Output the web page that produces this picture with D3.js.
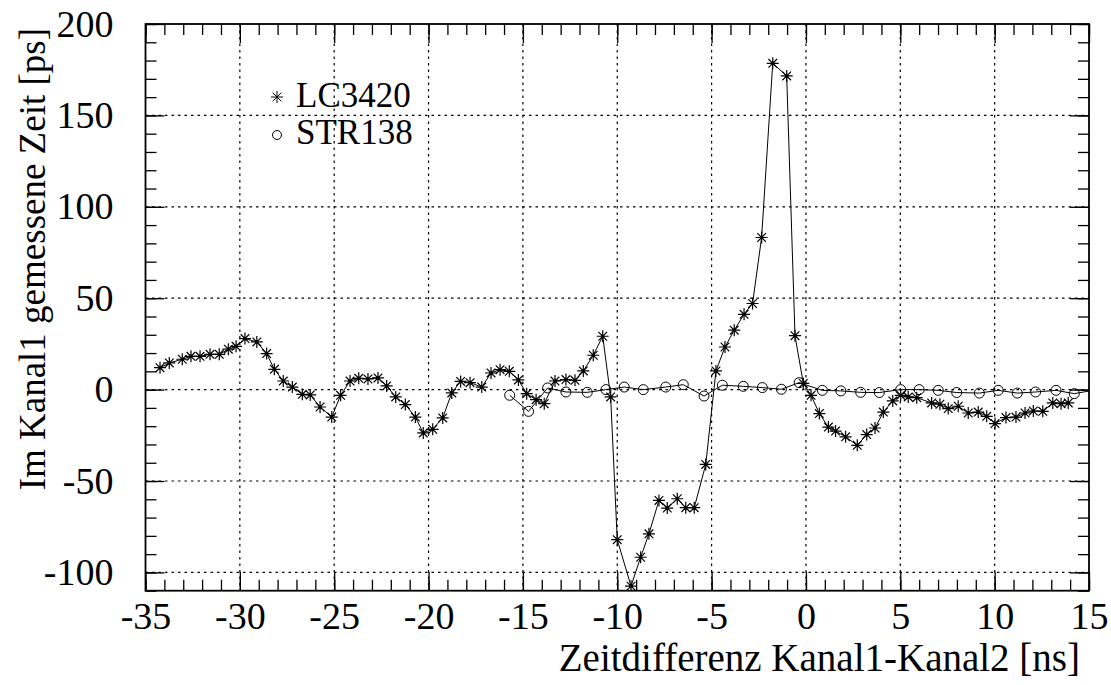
<!DOCTYPE html>
<html>
<head>
<meta charset='utf-8' />
<title>Zeitdifferenz</title>
<style>
  body { margin: 0; background: #fff; }
  svg text { font-family: 'Liberation Serif', 'DejaVu Serif', serif; fill: #000; }
  .domain { display: none; }
</style>
</head>
<body>
<div id="wrapper"></div>
<script src='https://d3js.org/d3.v7.min.js' charset='utf-8'></script>
<script>
  // LC3420 (stars)
  const lcX = [-34.23, -33.74, -33.05, -32.59, -32.11, -31.58, -31.09, -30.61, -30.2, -29.73,
    -29.1, -28.58, -28.17, -27.7, -27.22, -26.69, -26.27, -25.75, -25.13, -24.66,
    -24.16, -23.7, -23.21, -22.68, -22.22, -21.74, -21.23, -20.7, -20.28, -19.78,
    -19.25, -18.77, -18.3, -17.8, -17.18, -16.69, -16.21, -15.72, -15.24, -14.8,
    -14.3, -13.87, -13.3, -12.72, -12.24, -11.8, -11.27, -10.77, -10.35, -10.0,
    -9.27, -8.76, -8.32, -7.79, -7.35, -6.82, -6.37, -5.92, -5.31, -4.77,
    -4.29, -3.8, -3.28, -2.83, -2.35, -1.76, -1.02, -0.58, -0.14, 0.27,
    0.71, 1.19, 1.57, 2.1, 2.72, 3.22, 3.66, 4.1, 4.6, 5.02,
    5.42, 5.87, 6.66, 7.1, 7.54, 8.07, 8.6, 9.13, 9.58, 10.02,
    10.6, 11.13, 11.61, 12.05, 12.55, 13.08, 13.52, 13.9]
  const lcY = [12.0, 14.6, 16.6, 18.2, 18.2, 19.3, 19.3, 22.1, 23.7, 27.9,
    26.1, 19.7, 11.1, 4.7, 1.4, -2.6, -2.9, -9.5, -15.0, -3.1,
    4.7, 6.2, 5.8, 6.4, 2.0, -4.0, -8.2, -15.0, -23.7, -21.7,
    -15.5, -1.8, 4.5, 3.8, 1.4, 9.1, 10.9, 10.0, 5.3, -2.2,
    -5.5, -7.7, 4.7, 5.5, 5.1, 10.2, 18.8, 29.2, -4.0, -82.1,
    -107.5, -91.7, -78.9, -60.6, -64.8, -59.7, -64.6, -64.6, -40.9, 10.2,
    23.3, 32.5, 41.2, 47.1, 83.2, 178.5, 171.6, 29.5, 3.4, -3.1,
    -13.1, -20.5, -22.7, -25.8, -30.5, -24.6, -21.0, -12.3, -6.2, -3.1,
    -4.0, -4.4, -7.3, -8.0, -10.4, -9.1, -12.8, -12.3, -14.6, -18.6,
    -15.3, -15.0, -12.8, -11.7, -11.9, -7.3, -7.7, -7.3]

  // STR138 (circles)
  const strX = [-15.7, -14.7, -13.69, -12.72, -11.59, -10.6, -9.63, -8.62, -7.43, -6.5,
    -5.4, -4.43, -3.32, -2.31, -1.3, -0.36, 0.87, 1.85, 2.9, 3.89,
    5.02, 6.0, 7.01, 7.99, 9.19, 10.19, 11.2, 12.17, 13.25, 14.22, 15.6]
  const strY = [-3.1, -11.9, 0.9, -1.3, -1.5, 0.0, 1.4, 0.0, 1.4, 2.7,
    -3.5, 2.4, 1.8, 1.1, 0.2, 3.8, -0.4, -0.7, -1.5, -1.6,
    0.0, 0.0, -0.4, -1.6, -1.9, -0.4, -1.9, -1.3, -0.4, -2.2, 0.3]

  const xTicks = [-35, -30, -25, -20, -15, -10, -5, 0, 5, 10, 15]
  const yTicks = [-100, -50, 0, 50, 100, 150, 200]
  const seriesNames = ['LC3420', 'STR138']

  const W = 1111, H = 685
  const pl = 145.5, pr = 1089, pt = 24, pb = 590.7

  const svg = d3.select('#wrapper').append('svg')
    .attr('width', W).attr('height', H)

  const x = d3.scaleLinear().domain([-35, 15]).range([pl, pr])
  const y = d3.scaleLinear().domain([-110, 200]).range([pb, pt])

  // grid
  const grid = svg.append('g').attr('stroke', '#000').attr('stroke-width', 1.2)
    .attr('stroke-dasharray', '2.5,4')
  grid.selectAll('.gx').data(xTicks.slice(1, -1)).enter().append('line')
    .attr('x1', d => x(d)).attr('x2', d => x(d)).attr('y1', pt).attr('y2', pb)
  grid.selectAll('.gy').data(yTicks.filter(d => d < 200)).enter().append('line')
    .attr('y1', d => y(d)).attr('y2', d => y(d)).attr('x1', pl).attr('x2', pr)

  const xMinor = d3.range(-35, 15.01, 1)
  const yMinor = d3.range(-110, 200.01, 10)

  // axes: minor ticks then major ticks, all pointing inward
  const addAxis = (axis, tx, ty) => svg.append('g')
    .attr('transform', `translate(${tx},${ty})`).call(axis)

  const fs = '38px'
  addAxis(d3.axisBottom(x).tickValues(xMinor).tickSize(-11).tickFormat(''), 0, pb)
  addAxis(d3.axisTop(x).tickValues(xMinor).tickSize(-11).tickFormat(''), 0, pt)
  addAxis(d3.axisLeft(y).tickValues(yMinor).tickSize(-11).tickFormat(''), pl, 0)
  addAxis(d3.axisRight(y).tickValues(yMinor).tickSize(-11).tickFormat(''), pr, 0)

  addAxis(d3.axisBottom(x).tickValues(xTicks).tickSize(-19).tickPadding(11).tickFormat(d3.format('d')), 0, pb)
    .selectAll('text').style('font-size', fs)
  addAxis(d3.axisTop(x).tickValues(xTicks).tickSize(-19).tickFormat(''), 0, pt)
  addAxis(d3.axisLeft(y).tickValues(yTicks).tickSize(-19).tickPadding(32).tickFormat(d3.format('d')), pl, 0)
    .selectAll('text').style('font-size', fs)
  addAxis(d3.axisRight(y).tickValues(yTicks).tickSize(-19).tickFormat(''), pr, 0)

  svg.selectAll('.tick line').attr('stroke', '#000').attr('stroke-width', 1.3)
  svg.selectAll('.tick text').text(function () { return this.textContent.replace('\u2212', '-') })

  // frame
  svg.append('rect').attr('x', pl).attr('y', pt)
    .attr('width', pr - pl).attr('height', pb - pt)
    .attr('fill', 'none').attr('stroke', '#000').attr('stroke-width', 1.8)

  // titles
  svg.append('text').attr('x', 1080).attr('y', 671)
    .attr('text-anchor', 'end').style('font-size', '39px')
    .text('Zeitdifferenz Kanal1-Kanal2 [ns]')
  svg.append('text').attr('transform', 'translate(45,28) rotate(-90)')
    .attr('text-anchor', 'end').style('font-size', '37px')
    .text('Im Kanal1 gemessene Zeit [ps]')

  // data
  svg.append('clipPath').attr('id', 'clip').append('rect')
    .attr('x', pl).attr('y', pt).attr('width', pr - pl).attr('height', pb - pt)
  const plot = svg.append('g').attr('clip-path', 'url(#clip)')

  const lc = lcX.map((d, i) => [d, lcY[i]])
  const str = strX.map((d, i) => [d, strY[i]])
  const line = d3.line().x(d => x(d[0])).y(d => y(d[1]))

  plot.append('path').datum(str).attr('d', line)
    .attr('fill', 'none').attr('stroke', '#000').attr('stroke-width', 1)
  plot.append('path').datum(lc).attr('d', line)
    .attr('fill', 'none').attr('stroke', '#000').attr('stroke-width', 1)

  const starPath = s => {
    const d = s * 0.72
    return `M${-s},0L${s},0M0,${-s}L0,${s}M${-d},${-d}L${d},${d}M${-d},${d}L${d},${-d}`
  }

  plot.selectAll('.circ').data(str).enter().append('circle')
    .attr('cx', d => x(d[0])).attr('cy', d => y(d[1])).attr('r', 5)
    .attr('fill', 'none').attr('stroke', '#000').attr('stroke-width', 1)

  plot.selectAll('.star').data(lc).enter().append('path')
    .attr('transform', d => `translate(${x(d[0])},${y(d[1])})`)
    .attr('d', starPath(6)).attr('stroke', '#000').attr('stroke-width', 1.2)
  plot.selectAll('.dot').data(lc).enter().append('circle')
    .attr('cx', d => x(d[0])).attr('cy', d => y(d[1])).attr('r', 1.6).attr('fill', '#000')

  // legend
  const lg = svg.append('g')
  lg.append('path').attr('transform', 'translate(277,97)')
    .attr('d', starPath(6)).attr('stroke', '#000').attr('stroke-width', 1)
  lg.append('circle').attr('cx', 277).attr('cy', 135).attr('r', 4.5)
    .attr('fill', 'none').attr('stroke', '#000')
  lg.selectAll('.lt').data(seriesNames).enter().append('text')
    .attr('x', 296).attr('y', (d, i) => 107 + i * 37)
    .style('font-size', '35px').text(d => d)
</script>
</body>
</html>
